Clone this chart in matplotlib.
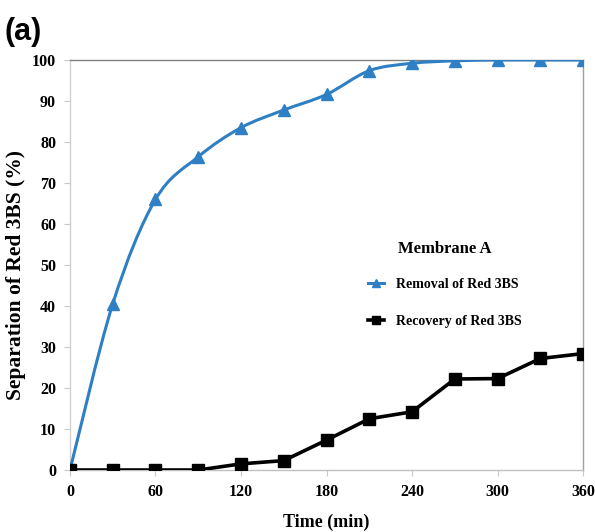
import numpy as np
import matplotlib
matplotlib.use("Agg")
import matplotlib.pyplot as plt
from matplotlib.path import Path
from matplotlib.patches import PathPatch
from matplotlib.lines import Line2D

# === DATA ===
time_min = [0, 30, 60, 90, 120, 150, 180, 210, 240, 270, 300, 330, 360]
removal = [0, 40.5, 66, 76.4, 83.5, 87.8, 91.6, 97.4, 99.2, 99.8, 100, 100, 100]
recovery = [0, 0, 0, 0, 1.5, 2.3, 7.3, 12.5, 14.2, 22.2, 22.3, 27.2, 28.4]
xticks = [0, 60, 120, 180, 240, 300, 360]
yticks = [0, 10, 20, 30, 40, 50, 60, 70, 80, 90, 100]

BLUE = "#2f7fc4"
SERIF = "Liberation Serif"


# === Excel-like smoothed line (Catmull-Rom as cubic Bezier) ===
def smooth_path(x, y):
    pts = np.column_stack([x, y]).astype(float)
    n = len(pts)
    verts = [pts[0]]
    codes = [Path.MOVETO]
    for i in range(n - 1):
        p0 = pts[i - 1] if i > 0 else pts[i]
        p1 = pts[i]
        p2 = pts[i + 1]
        p3 = pts[i + 2] if i + 2 < n else pts[i + 1]
        c1 = p1 + (p2 - p0) / 6.0
        c2 = p2 - (p3 - p1) / 6.0
        verts += [c1, c2, p2]
        codes += [Path.CURVE4] * 3
    return Path(verts, codes)


fig = plt.figure(figsize=(5.95, 5.32), dpi=100)
ax = fig.add_axes([0.1176, 0.1165, 0.8624, 0.7707])

ax.add_patch(PathPatch(smooth_path(time_min, removal), facecolor="none",
                       edgecolor=BLUE, lw=2.2, zorder=3))
ax.plot(time_min, removal, ls="none", marker="^", ms=9, color=BLUE, zorder=4)
ax.plot(time_min, recovery, color="black", lw=2.6, marker="s", ms=9, zorder=5)

ax.set_xlim(0, 360)
ax.set_ylim(0, 100)
ax.set_xticks(xticks)
ax.set_yticks(yticks)
ax.set_xticklabels([str(t) for t in xticks], fontfamily=SERIF, fontweight="bold", fontsize=11.5)
ax.set_yticklabels([str(t) for t in yticks], fontfamily=SERIF, fontweight="bold", fontsize=11.5)
ax.tick_params(axis="both", direction="out", length=4, color="#c8c8c8", pad=6)

ax.spines["left"].set_color("#d0d0d0")
ax.spines["bottom"].set_color("#c0c0c0")
ax.spines["top"].set_color("#808080")
ax.spines["right"].set_color("#a0a0a0")
for s in ax.spines.values():
    s.set_linewidth(1.0)

ax.set_xlabel("Time (min)", fontfamily=SERIF, fontweight="bold", fontsize=13, labelpad=10)
ax.set_ylabel("Separation of Red 3BS (%)", fontfamily=SERIF, fontweight="bold", fontsize=15.5)
ax.yaxis.set_label_coords(-0.086, 0.475)

handles = [
    Line2D([], [], color=BLUE, lw=2.2, marker="^", ms=6),
    Line2D([], [], color="black", lw=2.6, marker="s", ms=6),
]
leg = ax.legend(handles, ["Removal of Red 3BS", "Recovery of Red 3BS"],
                title="Membrane A", frameon=False, loc="center",
                bbox_to_anchor=(0.73, 0.452), handlelength=1.2, handletextpad=0.8,
                labelspacing=1.75, prop={"family": SERIF, "weight": "bold", "size": 10})
leg.get_title().set_fontfamily(SERIF)
leg.get_title().set_fontweight("bold")
leg.get_title().set_fontsize(12)
leg._legend_box.sep = 15

fig.text(0.008, 0.968, "(a)", fontfamily="Liberation Sans", fontweight="bold",
         fontsize=22, va="top", ha="left")

fig.savefig("out.png", dpi=100)
